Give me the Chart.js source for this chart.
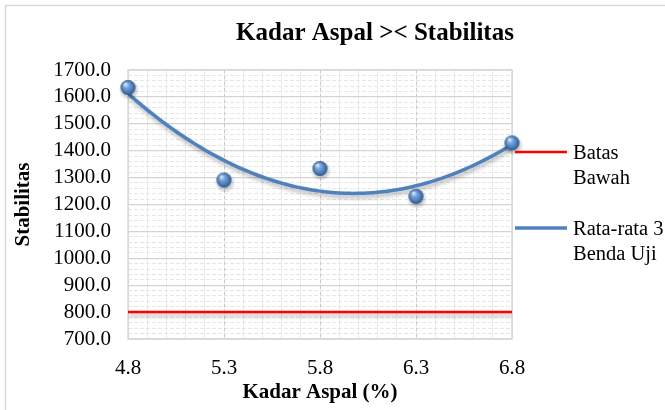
<!DOCTYPE html>
<html>
<head>
<meta charset="utf-8">
<script src="https://cdn.jsdelivr.net/npm/chart.js@4/dist/chart.umd.min.js"></script>
<style>
  html, body { margin: 0; padding: 0; background: #ffffff; }
  #wrap { position: relative; width: 665px; height: 410px; }
</style>
</head>
<body>
<div id="wrap"><canvas id="chart" width="665" height="410"></canvas></div>
<script>
// Measured stability per asphalt content (average of 3 specimens)
const kadarAspal = [4.8, 5.3, 5.8, 6.3, 6.8];
const stabilitas = [1635, 1291, 1334, 1230, 1429];

// Lower limit line
const batasX = [4.8, 6.8];
const batasBawah = [800, 800];

// Axis ticks
const xTickValues = [4.8, 5.3, 5.8, 6.3, 6.8];
const yTickValues = [700, 800, 900, 1000, 1100, 1200, 1300, 1400, 1500, 1600, 1700];

// Legend text
const legendBatas = ['Batas', 'Bawah'];
const legendRata = ['Rata-rata 3', 'Benda Uji'];

const SERIF = '"Liberation Serif", "Times New Roman", serif';
const BLUE = '#4F81BD';
const RED = '#FF0000';

// Quadratic least-squares trendline through the measured points
function polyFit2(xs, ys) {
  let s0 = 0, s1 = 0, s2 = 0, s3 = 0, s4 = 0, t0 = 0, t1 = 0, t2 = 0;
  for (let i = 0; i < xs.length; i++) {
    const x = xs[i], y = ys[i];
    s0 += 1; s1 += x; s2 += x * x; s3 += x * x * x; s4 += x * x * x * x;
    t0 += y; t1 += x * y; t2 += x * x * y;
  }
  const A = [[s0, s1, s2, t0], [s1, s2, s3, t1], [s2, s3, s4, t2]];
  for (let c = 0; c < 3; c++) {
    for (let r = c + 1; r < 3; r++) {
      const f = A[r][c] / A[c][c];
      for (let k = c; k < 4; k++) A[r][k] -= f * A[c][k];
    }
  }
  const coef = [0, 0, 0];
  for (let r = 2; r >= 0; r--) {
    let v = A[r][3];
    for (let k = r + 1; k < 3; k++) v -= A[r][k] * coef[k];
    coef[r] = v / A[r][r];
  }
  return coef;
}
const trendCoef = polyFit2(kadarAspal, stabilitas);
const trendPoints = [];
{
  const x0 = kadarAspal[0], x1 = kadarAspal[kadarAspal.length - 1], n = 80;
  for (let i = 0; i <= n; i++) {
    const x = x0 + (x1 - x0) * i / n;
    trendPoints.push({ x: x, y: trendCoef[0] + trendCoef[1] * x + trendCoef[2] * x * x });
  }
}

// Glossy sphere marker
function makeSphere(r) {
  const size = Math.ceil(r * 2 + 8);
  const cv = document.createElement('canvas');
  cv.width = size; cv.height = size;
  const g = cv.getContext('2d');
  const c = size / 2;
  // soft drop shadow
  const sh = g.createRadialGradient(c + 1, c + 2.5, r * 0.4, c + 1, c + 2.5, r + 3);
  sh.addColorStop(0, 'rgba(0,0,0,0.35)');
  sh.addColorStop(1, 'rgba(0,0,0,0)');
  g.fillStyle = sh;
  g.beginPath(); g.arc(c + 1, c + 2.5, r + 3, 0, Math.PI * 2); g.fill();
  // body
  const gr = g.createRadialGradient(c - r * 0.35, c - r * 0.45, r * 0.1, c, c, r);
  gr.addColorStop(0, '#d4e3f5');
  gr.addColorStop(0.3, '#7aa6d9');
  gr.addColorStop(0.75, '#4677b3');
  gr.addColorStop(1, '#2b558a');
  g.fillStyle = gr;
  g.beginPath(); g.arc(c, c, r, 0, Math.PI * 2); g.fill();
  return cv;
}
const sphere = makeSphere(7.5);

// Frame, title, plot border, shadows and legend
const decor = {
  id: 'decor',
  beforeDraw(chart) {
    const ctx = chart.ctx;
    ctx.save();
    ctx.fillStyle = '#ffffff';
    ctx.fillRect(0, 0, chart.width, chart.height);
    ctx.strokeStyle = '#d9d9d9';
    ctx.lineWidth = 1.5;
    ctx.beginPath();
    ctx.moveTo(5.5, chart.height);
    ctx.lineTo(5.5, 5.5);
    ctx.lineTo(chart.width, 5.5);
    ctx.stroke();
    ctx.restore();
  },
  beforeDatasetsDraw(chart) {
    const { ctx, chartArea: a } = chart;
    ctx.save();
    ctx.strokeStyle = '#d9d9d9';
    ctx.lineWidth = 1.5;
    ctx.strokeRect(a.left, a.top, a.right - a.left, a.bottom - a.top);
    ctx.restore();
  },
  beforeDatasetDraw(chart, args) {
    const ctx = chart.ctx;
    ctx.save();
    if (args.index !== 0) {
      ctx.shadowColor = 'rgba(0,0,0,0.3)';
      ctx.shadowBlur = 4;
      ctx.shadowOffsetX = 1;
      ctx.shadowOffsetY = 3;
    }
  },
  afterDatasetDraw(chart) {
    chart.ctx.restore();
  },
  afterDraw(chart) {
    const { ctx, chartArea: a } = chart;
    ctx.save();
    // title
    ctx.fillStyle = '#000000';
    ctx.font = 'bold 25px ' + SERIF;
    ctx.textAlign = 'center';
    ctx.textBaseline = 'middle';
    ctx.fillText('Kadar Aspal >< Stabilitas', 375, 34);
    // legend
    const lx0 = a.right + 3, lx1 = a.right + 55, tx = a.right + 61;
    ctx.font = '20.5px ' + SERIF;
    ctx.textAlign = 'left';
    ctx.textBaseline = 'alphabetic';
    ctx.lineCap = 'butt';
    ctx.strokeStyle = RED; ctx.lineWidth = 2.5;
    ctx.beginPath(); ctx.moveTo(lx0, 152); ctx.lineTo(lx1, 152); ctx.stroke();
    ctx.fillText(legendBatas[0], tx, 159);
    ctx.fillText(legendBatas[1], tx, 183.5);
    ctx.strokeStyle = BLUE; ctx.lineWidth = 3.5;
    ctx.beginPath(); ctx.moveTo(lx0, 228); ctx.lineTo(lx1, 228); ctx.stroke();
    ctx.fillText(legendRata[0], tx, 235);
    ctx.fillText(legendRata[1], tx, 259.5);
    ctx.restore();
  }
};

const minorX = [];
for (let k = 0; k <= 20; k++) minorX.push(+(4.8 + k / 10).toFixed(1));
const minorY = [];
for (let v = 700; v <= 1700; v += 20) minorY.push(v);

new Chart(document.getElementById('chart'), {
  data: {
    datasets: [
      {
        type: 'scatter',
        label: 'Rata-rata 3 Benda Uji',
        data: kadarAspal.map((x, i) => ({ x: x, y: stabilitas[i] })),
        pointStyle: sphere,
        pointRadius: 7.5,
        pointHoverRadius: 7.5,
        clip: false,
        xAxisID: 'x', yAxisID: 'y',
        order: 0
      },
      {
        type: 'line',
        label: 'Trendline',
        data: trendPoints,
        borderColor: BLUE,
        borderWidth: 3.5,
        pointRadius: 0,
        tension: 0,
        fill: false,
        xAxisID: 'x', yAxisID: 'y',
        order: 1
      },
      {
        type: 'line',
        label: 'Batas Bawah',
        data: batasX.map((x, i) => ({ x: x, y: batasBawah[i] })),
        borderColor: RED,
        borderWidth: 2.5,
        pointRadius: 0,
        fill: false,
        xAxisID: 'x', yAxisID: 'y',
        order: 2
      }
    ]
  },
  options: {
    responsive: false,
    animation: false,
    devicePixelRatio: 1,
    layout: { padding: { top: 70, right: 153, bottom: 0, left: 0 } },
    plugins: {
      legend: { display: false },
      title: { display: false },
      tooltip: { enabled: false }
    },
    scales: {
      xMinor: {
        type: 'linear', axis: 'x', position: 'bottom',
        min: 4.8, max: 6.8,
        afterBuildTicks: s => { s.ticks = minorX.map(v => ({ value: v })); },
        afterFit: s => { s.height = 0; },
        ticks: { display: false },
        grid: { color: '#ebebeb', lineWidth: 1, drawTicks: false },
        border: { display: false }
      },
      yMinor: {
        type: 'linear', axis: 'y', position: 'left',
        min: 700, max: 1700,
        afterBuildTicks: s => { s.ticks = minorY.map(v => ({ value: v })); },
        afterFit: s => { s.width = 0; },
        ticks: { display: false },
        grid: { color: '#e6e6e6', lineWidth: 1, drawTicks: false },
        border: { display: false, dash: [4, 2] }
      },
      x: {
        type: 'linear', position: 'bottom',
        min: 4.8, max: 6.8,
        afterBuildTicks: s => { s.ticks = xTickValues.map(v => ({ value: v })); },
        afterFit: s => { s.height = 71; },
        ticks: {
          font: { family: SERIF, size: 21 },
          color: '#000000',
          padding: 17,
          maxRotation: 0,
          autoSkip: false,
          callback: v => Number(v).toFixed(1)
        },
        grid: { color: '#c8c8c8', lineWidth: 1, drawTicks: false },
        border: { display: false, dash: [3, 3] },
        title: {
          display: true,
          text: 'Kadar Aspal (%)',
          font: { family: SERIF, size: 21, weight: 'bold' },
          color: '#000000',
          padding: { top: 0, bottom: 5 }
        }
      },
      y: {
        type: 'linear', position: 'left',
        min: 700, max: 1700,
        afterBuildTicks: s => { s.ticks = yTickValues.map(v => ({ value: v })); },
        afterFit: s => { s.width = 128; },
        ticks: {
          font: { family: SERIF, size: 21 },
          color: '#000000',
          padding: 17,
          autoSkip: false,
          callback: v => Number(v).toFixed(1)
        },
        grid: { color: '#d4d4d4', lineWidth: 1.2, drawTicks: false },
        border: { display: false },
        title: {
          display: true,
          text: 'Stabilitas',
          font: { family: SERIF, size: 21, weight: 'bold' },
          color: '#000000',
          padding: { top: 11, bottom: 0 }
        }
      }
    }
  },
  plugins: [decor]
});
</script>
</body>
</html>
